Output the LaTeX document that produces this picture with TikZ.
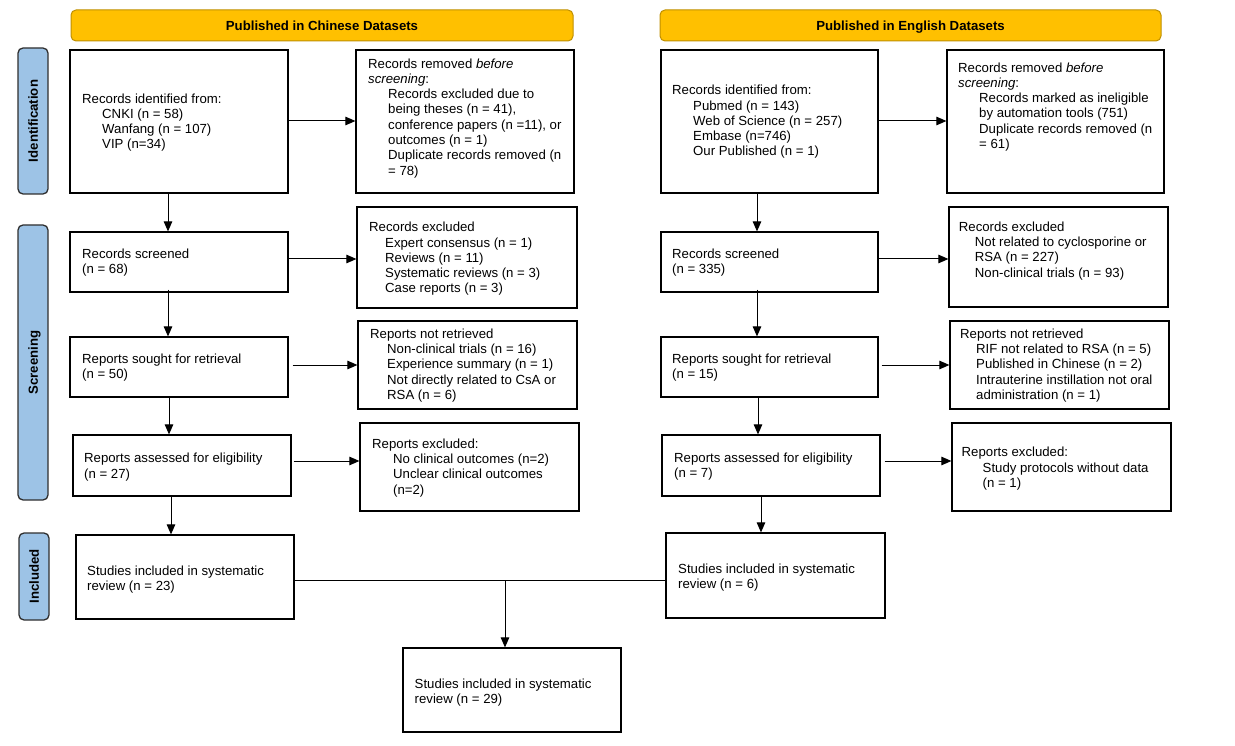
\documentclass[tikz,border=0pt]{standalone}
\usepackage{fontspec}
\setmainfont{Liberation Sans}
\usetikzlibrary{arrows.meta}
\definecolor{hdrfill}{HTML}{FFC000}
\definecolor{hdrline}{HTML}{BF9000}
\definecolor{labfill}{HTML}{9DC3E6}
\definecolor{labline}{HTML}{2F2F2F}
\newcommand\indd[1]{\hspace*{#1pt}}
\begin{document}
\begin{tikzpicture}[x=1pt,y=-1pt,
  box/.style={draw=black, line width=1.2pt, fill=white, inner sep=0pt},
  hdr/.style={draw=hdrline, line width=1pt, fill=hdrfill, rounded corners=5pt, inner sep=0pt,
    font=\fontsize{13.2}{15}\selectfont\bfseries, text height=9.6pt, text depth=0pt},
  lab/.style={draw=labline, line width=1.3pt, fill=labfill, rounded corners=5pt, inner sep=0pt,
    font=\fontsize{13.2}{15}\selectfont\bfseries, rotate=90, text height=9.6pt, text depth=0pt},
  txt/.style={anchor=north west, inner sep=0pt, align=left,
    font=\fontsize{13.2}{15.3}\selectfont, execute at begin node=\strut},
  conn/.style={draw=black, line width=1pt},
  arr/.style={conn, -{Triangle[length=10pt,width=8.5pt]}}]
\useasboundingbox (0,0) rectangle (1235,746);
\fill[white] (0,0) rectangle (1235,746);

% headers
\node[hdr, minimum width=502pt, minimum height=31pt] (hc) at (322,25.5) {Published in Chinese Datasets};
\node[hdr, minimum width=501pt, minimum height=31pt] (he) at (910.5,25.5) {Published in English Datasets};

% side labels
\node[lab, minimum width=146pt, minimum height=30pt] (lid) at (33,121) {Identification};
\node[lab, minimum width=275pt, minimum height=30pt] (lsc) at (33,362.5) {Screening};
\node[lab, minimum width=87pt, minimum height=30pt] (lin) at (34,576.5) {Included};

% Chinese column boxes
\node[box, minimum width=218pt, minimum height=143pt] (c1) at (179,121.5) {};
\node[box, minimum width=218pt, minimum height=143pt] (c2) at (465,121.5) {};
\node[box, minimum width=218pt, minimum height=60pt] (cs) at (179,262) {};
\node[box, minimum width=220pt, minimum height=101pt] (ce) at (467,257.5) {};
\node[box, minimum width=218pt, minimum height=60pt] (cr) at (179,367) {};
\node[box, minimum width=219pt, minimum height=88pt] (cn) at (467.5,365) {};
\node[box, minimum width=218pt, minimum height=61pt] (ca) at (182,465.5) {};
\node[box, minimum width=219pt, minimum height=88pt] (cx) at (469.5,467) {};
\node[box, minimum width=218pt, minimum height=84pt] (ci) at (185,577) {};
\node[box, minimum width=218pt, minimum height=84pt] (fin) at (512,690) {};

% English column boxes
\node[box, minimum width=217pt, minimum height=143pt] (e1) at (769.5,121.5) {};
\node[box, minimum width=217pt, minimum height=143pt] (e2) at (1055.5,121.5) {};
\node[box, minimum width=217pt, minimum height=60pt] (es) at (769.5,262) {};
\node[box, minimum width=219pt, minimum height=100pt] (ee) at (1058.5,257) {};
\node[box, minimum width=217pt, minimum height=60pt] (er) at (769.5,367) {};
\node[box, minimum width=219pt, minimum height=88pt] (en) at (1059.5,365) {};
\node[box, minimum width=218pt, minimum height=61pt] (ea) at (771,465.5) {};
\node[box, minimum width=219pt, minimum height=88pt] (ex) at (1061.5,467) {};
\node[box, minimum width=219pt, minimum height=85pt] (ei) at (775.5,575.5) {};

% texts, Chinese
\node[txt] (tc1) at (82,93.3) {Records identified from:\\\indd{20}CNKI (n = 58)\\\indd{20}Wanfang (n = 107)\\\indd{20}VIP (n=34)};
\node[txt] (tc2) at (368,58.3) {Records removed \textit{before}\\\textit{screening}:\\\indd{20}Records excluded due to\\\indd{20}being theses (n = 41),\\\indd{20}conference papers (n =11), or\\\indd{20}outcomes (n = 1)\\\indd{20}Duplicate records removed (n\\\indd{20}= 78)};
\node[txt] (tcs) at (82,248.6) {Records screened\\(n = 68)};
\node[txt] (tce) at (369,222) {Records excluded\\\indd{16}Expert consensus (n = 1)\\\indd{16}Reviews (n = 11)\\\indd{16}Systematic reviews (n = 3)\\\indd{16}Case reports (n = 3)};
\node[txt] (tcr) at (82,353.6) {Reports sought for retrieval\\(n = 50)};
\node[txt] (tcn) at (370,328.6) {Reports not retrieved\\\indd{17}Non-clinical trials (n = 16)\\\indd{17}Experience summary (n = 1)\\\indd{17}Not directly related to CsA or\\\indd{17}RSA (n = 6)};
\node[txt] (tca) at (84,453) {Reports assessed for eligibility\\(n = 27)};
\node[txt] (tcx) at (372,438.6) {Reports excluded:\\\indd{21}No clinical outcomes (n=2)\\\indd{21}Unclear clinical outcomes\\\indd{21}(n=2)};
\node[txt] (tci) at (87,565.3) {Studies included in systematic\\review (n = 23)};
\node[txt] (tfin) at (414.5,678.3) {Studies included in systematic\\review (n = 29)};

% texts, English
\node[txt] (te1) at (672,85) {Records identified from:\\\indd{21}Pubmed (n = 143)\\\indd{21}Web of Science (n = 257)\\\indd{21}Embase (n=746)\\\indd{21}Our Published (n = 1)};
\node[txt] (te2) at (958,62.3) {Records removed \textit{before}\\\textit{screening}:\\\indd{21}Records marked as ineligible\\\indd{21}by automation tools (751)\\\indd{21}Duplicate records removed (n\\\indd{21}= 61)};
\node[txt] (tes) at (672,248.6) {Records screened\\(n = 335)};
\node[txt] (tee) at (958.7,221.6) {Records excluded\\\indd{16}Not related to cyclosporine or\\\indd{16}RSA (n = 227)\\\indd{16}Non-clinical trials (n = 93)};
\node[txt] (ter) at (672,353.6) {Reports sought for retrieval\\(n = 15)};
\node[txt] (ten) at (960,328.6) {Reports not retrieved\\\indd{16}RIF not related to RSA (n = 5)\\\indd{16}Published in Chinese (n = 2)\\\indd{16}Intrauterine instillation not oral\\\indd{16}administration (n = 1)};
\node[txt] (tea) at (674,452.6) {Reports assessed for eligibility\\(n = 7)};
\node[txt] (tex) at (961.5,447) {Reports excluded:\\\indd{21}Study protocols without data\\\indd{21}(n = 1)};
\node[txt] (tei) at (678,563.6) {Studies included in systematic\\review (n = 6)};

% helper coordinates
\coordinate (ya) at (0,121);
\coordinate (yb) at (0,259);
\coordinate (yc) at (0,365);
\coordinate (yd) at (0,461);
\coordinate (ym) at (0,580);
\coordinate (xa) at (168,0);
\coordinate (xb) at (169,0);
\coordinate (xc) at (171,0);
\coordinate (xd) at (757,0);
\coordinate (xe) at (758,0);
\coordinate (xf) at (761,0);
\coordinate (jn) at (505,580);

% vertical arrows, Chinese
\draw[arr] (xa |- c1.south) -- (xa |- cs.north);
\draw[arr] ([yshift=3pt]xa |- cs.south) -- (xa |- cr.north);
\draw[arr] (xb |- cr.south) -- (xb |- ca.north);
\draw[arr] (xc |- ca.south) -- (xc |- ci.north);
% vertical arrows, English
\draw[arr] (xd |- e1.south) -- (xd |- es.north);
\draw[arr] ([yshift=3pt]xd |- es.south) -- (xd |- er.north);
\draw[arr] (xe |- er.south) -- (xe |- ea.north);
\draw[arr] (xf |- ea.south) -- (xf |- ei.north);

% horizontal arrows
\draw[arr] (c1.east |- ya) -- (c2.west |- ya);
\draw[arr] (cs.east |- yb) -- (ce.west |- yb);
\draw[arr] ([xshift=4pt]cr.east |- yc) -- (cn.west |- yc);
\draw[arr] ([xshift=2pt]ca.east |- yd) -- (cx.west |- yd);
\draw[arr] (e1.east |- ya) -- (e2.west |- ya);
\draw[arr] (es.east |- yb) -- (ee.west |- yb);
\draw[arr] ([xshift=3pt]er.east |- yc) -- (en.west |- yc);
\draw[arr] ([xshift=4pt]ea.east |- yd) -- (ex.west |- yd);

% merge
\draw[conn] (ci.east |- ym) -- (ei.west |- ym);
\draw[arr] (jn) -- (jn |- fin.north);
\end{tikzpicture}
\end{document}
